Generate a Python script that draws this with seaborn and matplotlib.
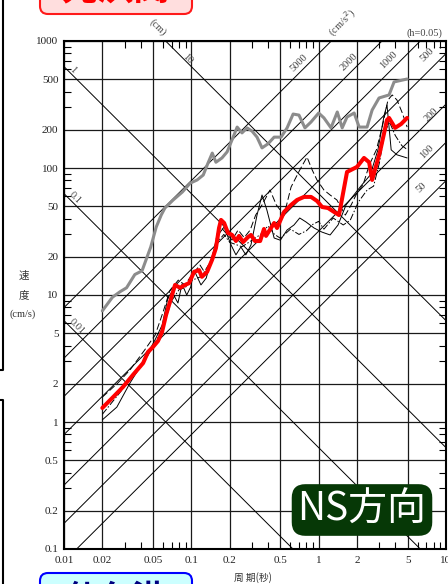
import numpy as np
import seaborn as sns
import matplotlib.pyplot as plt
from matplotlib.patches import FancyBboxPatch
from matplotlib.lines import Line2D
from matplotlib.transforms import IdentityTransform
from matplotlib.ticker import LogLocator, NullFormatter

sns.set_style("white")
plt.rcParams['font.family'] = ['Liberation Serif', 'Noto Sans CJK JP']

# 周期(秒) - 速度応答(cm/s)
gray_T = [0.02, 0.024, 0.0275, 0.031, 0.036, 0.041, 0.048, 0.053, 0.058, 0.062,
          0.072, 0.085, 0.098, 0.111, 0.124, 0.135, 0.146, 0.156, 0.174, 0.191,
          0.213, 0.229, 0.25, 0.274, 0.30, 0.328, 0.359, 0.40, 0.447, 0.507,
          0.565, 0.63, 0.70, 0.78, 0.87, 1.0, 1.1, 1.25, 1.4, 1.53,
          1.67, 1.9, 2.08, 2.4, 2.63, 2.98, 3.57, 3.91, 4.95]
gray_V = [7.5, 9.6, 10.6, 11.4, 14.5, 15.5, 23.9, 34.3, 42.6, 48.4,
          56, 64.7, 76, 80.5, 88, 109, 131, 111, 120, 134,
          175, 210, 189, 207, 195, 175, 144, 155, 175, 175,
          207, 266, 261, 207, 230, 271, 248, 207, 276, 207,
          252, 271, 210, 210, 286, 356, 376, 476, 502]

red_T = [0.02, 0.0243, 0.0291, 0.0348, 0.0418, 0.0457, 0.05, 0.0547, 0.0589, 0.0633,
         0.0668, 0.0718, 0.0745, 0.0815, 0.0892, 0.096, 0.105, 0.115, 0.121, 0.133,
         0.1455, 0.156, 0.165, 0.171, 0.181, 0.194, 0.209, 0.224, 0.237, 0.255,
         0.279, 0.294, 0.316, 0.347, 0.372, 0.386, 0.447, 0.471, 0.535, 0.607,
         0.676, 0.767, 0.871, 0.971, 1.064, 1.185, 1.32, 1.445, 1.67, 2.0,
         2.27, 2.49, 2.63, 3.03, 3.44, 3.57, 3.98, 4.44, 4.95]
red_V = [1.29, 1.57, 1.89, 2.35, 2.91, 3.56, 3.90, 4.34, 5.12, 6.96,
         8.34, 10.6, 12.0, 11.4, 12.0, 12.4, 15.2, 15.7, 13.9, 15.2,
         18.9, 23.4, 33.7, 39.0, 36.9, 30.8, 29.7, 26.6, 29.2, 26.1,
         28.6, 29.7, 26.6, 26.6, 33.1, 29.2, 36.9, 33.7, 45.1, 51.2,
         56.0, 59.2, 59.2, 55.0, 49.3, 48.4, 45.1, 42.6, 93.1, 102,
         120, 111, 80.5, 134, 239, 248, 207, 222, 248]

solid_T = [0.02, 0.026, 0.033, 0.0418, 0.0518, 0.059, 0.0655, 0.0705, 0.0785, 0.0845,
           0.092, 0.099, 0.105, 0.119, 0.131, 0.143, 0.162, 0.181, 0.205, 0.224,
           0.245, 0.268, 0.294, 0.328, 0.359, 0.392, 0.447, 0.50, 0.565, 0.64,
           0.71, 0.795, 0.92, 1.06, 1.23, 1.42, 1.64, 1.89, 2.18, 2.54,
           2.92, 3.27, 3.44, 3.71, 4.12, 4.95]
solid_V = [1.04, 1.31, 2.03, 2.97, 4.42, 5.8, 9.5, 10.6, 8.65, 12.2,
           10.0, 11.6, 15.7, 12.0, 13.6, 18.9, 29.7, 34.3, 24.8, 20.7,
           23.9, 20.7, 24.8, 42.6, 61.3, 46.7, 28.1, 27.0, 32.5, 35.6,
           40.4, 37.6, 33.7, 31.3, 29.7, 35.6, 51.2, 61.3, 73.5, 88,
           139, 261, 313, 139, 127, 120]

dash_T = [0.02, 0.0265, 0.033, 0.043, 0.052, 0.06, 0.068, 0.079, 0.089, 0.101,
          0.117, 0.131, 0.148, 0.165, 0.184, 0.209, 0.233, 0.26, 0.29, 0.32,
          0.359, 0.415, 0.465, 0.535, 0.607, 0.71, 0.81, 0.89, 0.97, 1.10,
          1.23, 1.39, 1.62, 1.80, 2.0, 2.23, 2.50, 2.84, 3.18, 3.50,
          3.78, 4.12, 4.54, 4.95]
dash_V = [1.57, 2.03, 2.57, 3.69, 4.84, 7.35, 10.9, 13.1, 12.0, 14.4,
          17.2, 14.4, 20.7, 35.6, 31.3, 27.1, 32.5, 28.3, 32.5, 42.6,
          51.2, 67.1, 51.2, 42.6, 70.8, 96.4, 122, 96.4, 80.5, 67.1,
          61.3, 56, 42.6, 51.2, 63.6, 73.5, 106, 139, 218, 343,
          376, 343, 271, 210]

dd_T = [0.02, 0.03, 0.04, 0.05, 0.06, 0.07, 0.08, 0.09, 0.1,
        0.12, 0.14, 0.16, 0.18, 0.2, 0.25, 0.3, 0.35, 0.4, 0.45, 0.5,
        0.6, 0.7, 0.8, 0.9, 1.0, 1.1, 1.3, 1.56, 1.77, 2.05,
        2.4, 2.7, 3.0, 3.3, 3.6, 4.0, 4.5, 4.95]
dd_V = [1.15, 1.9, 2.7, 3.9, 5.6, 9.0, 11.0, 11.5, 13.0,
        14.0, 18.0, 26.0, 30.0, 26.0, 24.0, 27.0, 30.0, 35.0, 30.0, 28.0,
        33.0, 30.0, 32.0, 36.0, 38.0, 33.0, 40.4, 35.6, 38.8, 54.0,
        67.0, 72.0, 110, 190, 230, 180, 150, 140]

x_ticks = [0.01, 0.02, 0.05, 0.1, 0.2, 0.5, 1, 2, 5, 10]
x_labels = ['0.01', '0.02', '0.05', '0.1', '0.2', '0.5', '1', '2', '5', '10']
y_ticks = [0.1, 0.2, 0.5, 1, 2, 5, 10, 20, 50, 100, 200, 500, 1000]
y_labels = ['0.1', '0.2', '0.5', '1', '2', '5', '10', '20', '50', '100', '200', '500', '1000']

disp_lines = [0.01, 0.1, 1, 10]                      # cm
acc_lines = [50, 100, 200, 500, 1000, 2000, 5000]     # cm/s2

fig = plt.figure(figsize=(4.48, 5.84), dpi=100)
ax = fig.add_axes([64/448, 35/584, 382/448, 508/584])
ax.set_xscale('log')
ax.set_yscale('log')

ax.grid(True, which='major', color='#1a1a1a', lw=0.9)

T_line = np.array([0.01, 10.0])
for d in disp_lines:
    ax.plot(T_line, 2*np.pi*d/T_line, color='black', lw=0.7, zorder=1)
for a in acc_lines:
    ax.plot(T_line, a*T_line/(2*np.pi), color='black', lw=0.7, zorder=1)

sns.lineplot(x=gray_T, y=gray_V, ax=ax, color='#8c8c8c', lw=2.2, zorder=3)
sns.lineplot(x=solid_T, y=solid_V, ax=ax, color='black', lw=0.7, zorder=4)
sns.lineplot(x=dash_T, y=dash_V, ax=ax, color='black', lw=0.7, linestyle=(0, (7, 3)), zorder=4)
sns.lineplot(x=dd_T, y=dd_V, ax=ax, color='black', lw=0.7, linestyle=(0, (7, 2, 1.5, 2)), zorder=4)
sns.lineplot(x=red_T, y=red_V, ax=ax, color='#ff0000', lw=2.9, zorder=5)

ax.set_xlim(0.01, 10)
ax.set_ylim(0.1, 1000)
ax.set_xticks(x_ticks)
ax.set_xticklabels(x_labels)
ax.set_yticks(y_ticks)
ax.set_yticklabels(y_labels)
ax.xaxis.set_minor_locator(LogLocator(base=10, subs=[3, 4, 6, 7, 8, 9], numticks=20))
ax.yaxis.set_minor_locator(LogLocator(base=10, subs=[3, 4, 6, 7, 8, 9], numticks=20))
ax.xaxis.set_minor_formatter(NullFormatter())
ax.yaxis.set_minor_formatter(NullFormatter())
ax.tick_params(which='major', length=0, labelsize=8, labelcolor='#222222')
ax.tick_params(axis='x', which='major', pad=5)
ax.tick_params(axis='y', which='major', pad=4)
ax.tick_params(which='minor', direction='in', length=5, width=0.8, color='black',
               top=True, right=True, bottom=True, left=True)
ax.set_xlabel('')
ax.set_ylabel('')
for s in ax.spines.values():
    s.set_color('black')
    s.set_linewidth(1.5)

def fx(px):
    return px / 448

def fy(py):
    return 1 - py / 584

lab = dict(color='#444444', fontsize=7.5, ha='center', va='center')
fig.text(fx(73), fy(70), '1', rotation=-45, **lab)
fig.text(fx(188), fy(59), '10', rotation=-45, **lab)
fig.text(fx(75), fy(198), '0.1', rotation=-45, **lab)
fig.text(fx(77), fy(327), '0.01', rotation=-45, **lab)
fig.text(fx(158), fy(27), '(cm)', rotation=-45, **lab)
fig.text(fx(299), fy(63), '5000', rotation=45, **lab)
fig.text(fx(349), fy(62), '2000', rotation=45, **lab)
fig.text(fx(389), fy(60), '1000', rotation=45, **lab)
fig.text(fx(427), fy(55), '500', rotation=45, **lab)
fig.text(fx(431), fy(115), '200', rotation=45, **lab)
fig.text(fx(427), fy(152), '100', rotation=45, **lab)
fig.text(fx(421), fy(188), '50', rotation=45, **lab)
fig.text(fx(342), fy(23), '(cm/s$^2$)', rotation=45, **lab)
fig.text(fx(424), fy(33), '(h=0.05)', color='#444444', fontsize=7.5, ha='center', va='center')

cjk = ['Noto Sans CJK JP', 'DejaVu Sans']
fig.text(fx(24), fy(276), '速', family=cjk, fontsize=7.5, color='#333333', ha='center', va='center')
fig.text(fx(24), fy(295), '度', family=cjk, fontsize=7.5, color='#333333', ha='center', va='center')
fig.text(fx(23), fy(314), '(cm/s)', fontsize=7.5, color='#333333', ha='center', va='center')
fig.text(fx(253), fy(578), '周 期(秒)', family=cjk, fontsize=7, color='#333333', ha='center', va='center')

fig.text(fx(362), fy(510), 'NS方向', family=cjk, fontsize=28, color='white', ha='center', va='center',
         bbox=dict(boxstyle='round,pad=0.15,rounding_size=0.35', fc='#063806', ec='none'))

ident = IdentityTransform()
fig.add_artist(FancyBboxPatch((40, 570), 152, 40, boxstyle='round,pad=0,rounding_size=8',
                              transform=ident, fc='#ffdede', ec='#ff1a1a', lw=1.5))
fig.text(fx(116), fy(-10), '元浜関', family=cjk, fontsize=26, fontweight='bold',
         color='#ff0000', ha='center', va='center')
fig.add_artist(FancyBboxPatch((40, -30), 152, 41, boxstyle='round,pad=0,rounding_size=8',
                              transform=ident, fc='#ccffff', ec='#0000ff', lw=1.5))
fig.text(fx(116), fy(599), '仙台港', family=cjk, fontsize=24, fontweight='bold',
         color='#000080', ha='center', va='center')

fig.add_artist(Line2D([0, 2.5, 2.5], [214, 214, 584], transform=ident, color='black', lw=1.5))
fig.add_artist(Line2D([0, 2.5, 2.5], [184, 184, 0], transform=ident, color='black', lw=1.5))

fig.savefig('out.png', dpi=100)
